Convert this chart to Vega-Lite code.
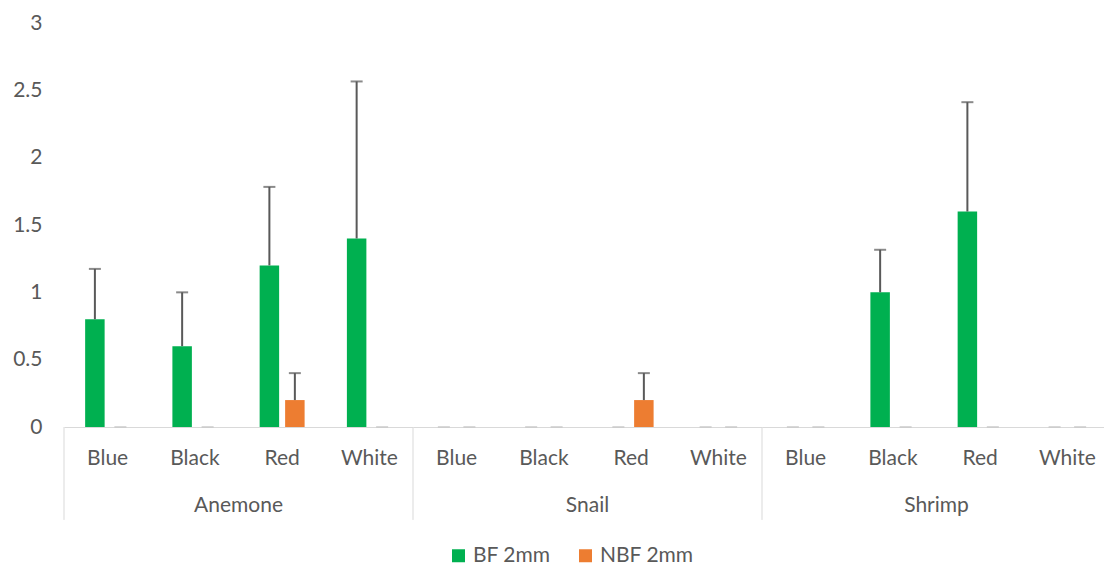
{
  "$schema": "https://vega.github.io/schema/vega-lite/v6.json",
  "background": "white",
  "padding": {"left": 12, "top": 12, "right": 0, "bottom": 0},
  "bounds": "flush",
  "data": {"values": [
    {"group": "Anemone", "color": "Blue", "series": "BF 2mm", "value": 0.8, "upper": 1.174},
    {"group": "Anemone", "color": "Blue", "series": "NBF 2mm", "value": 0, "upper": 0},
    {"group": "Anemone", "color": "Black", "series": "BF 2mm", "value": 0.6, "upper": 1.0},
    {"group": "Anemone", "color": "Black", "series": "NBF 2mm", "value": 0, "upper": 0},
    {"group": "Anemone", "color": "Red", "series": "BF 2mm", "value": 1.2, "upper": 1.783},
    {"group": "Anemone", "color": "Red", "series": "NBF 2mm", "value": 0.2, "upper": 0.4},
    {"group": "Anemone", "color": "White", "series": "BF 2mm", "value": 1.4, "upper": 2.566},
    {"group": "Anemone", "color": "White", "series": "NBF 2mm", "value": 0, "upper": 0},
    {"group": "Snail", "color": "Blue", "series": "BF 2mm", "value": 0, "upper": 0},
    {"group": "Snail", "color": "Blue", "series": "NBF 2mm", "value": 0, "upper": 0},
    {"group": "Snail", "color": "Black", "series": "BF 2mm", "value": 0, "upper": 0},
    {"group": "Snail", "color": "Black", "series": "NBF 2mm", "value": 0, "upper": 0},
    {"group": "Snail", "color": "Red", "series": "BF 2mm", "value": 0, "upper": 0},
    {"group": "Snail", "color": "Red", "series": "NBF 2mm", "value": 0.2, "upper": 0.4},
    {"group": "Snail", "color": "White", "series": "BF 2mm", "value": 0, "upper": 0},
    {"group": "Snail", "color": "White", "series": "NBF 2mm", "value": 0, "upper": 0},
    {"group": "Shrimp", "color": "Blue", "series": "BF 2mm", "value": 0, "upper": 0},
    {"group": "Shrimp", "color": "Blue", "series": "NBF 2mm", "value": 0, "upper": 0},
    {"group": "Shrimp", "color": "Black", "series": "BF 2mm", "value": 1.0, "upper": 1.316},
    {"group": "Shrimp", "color": "Black", "series": "NBF 2mm", "value": 0, "upper": 0},
    {"group": "Shrimp", "color": "Red", "series": "BF 2mm", "value": 1.6, "upper": 2.412},
    {"group": "Shrimp", "color": "Red", "series": "NBF 2mm", "value": 0, "upper": 0},
    {"group": "Shrimp", "color": "White", "series": "BF 2mm", "value": 0, "upper": 0},
    {"group": "Shrimp", "color": "White", "series": "NBF 2mm", "value": 0, "upper": 0}
  ]},
  "facet": {
    "column": {
      "field": "group", "type": "nominal", "sort": ["Anemone", "Snail", "Shrimp"],
      "header": {"title": null, "labelOrient": "bottom", "labelFont": "Lato", "labelFontSize": 21, "labelColor": "#595959", "labelPadding": 27}
    }
  },
  "spacing": 0,
  "spec": {
    "width": 349,
    "height": 404,
    "encoding": {
      "x": {
        "field": "color", "type": "nominal", "sort": ["Blue", "Black", "Red", "White"],
        "scale": {"paddingInner": 0, "paddingOuter": 0},
        "axis": {"title": null, "domainColor": "#d9d9d9", "domainWidth": 1, "ticks": false, "labelAngle": 0, "labelFont": "Lato", "labelFontSize": 21, "labelColor": "#595959", "labelPadding": 20}
      }
    },
    "layer": [
      {
        "mark": {"type": "bar"},
        "encoding": {
          "xOffset": {"field": "series", "type": "nominal", "scale": {"domain": ["BF 2mm", "NBF 2mm"], "paddingInner": 0.235, "paddingOuter": 0.83}},
          "y": {"field": "value", "type": "quantitative", "scale": {"domain": [0, 3], "nice": false, "zero": true},
            "axis": {"title": null, "values": [0, 0.5, 1, 1.5, 2, 2.5, 3], "format": ".1~f", "domain": false, "ticks": false, "grid": false, "labelFont": "Lato", "labelFontSize": 21, "labelColor": "#595959", "labelPadding": 22}},
          "color": {"field": "series", "type": "nominal", "scale": {"domain": ["BF 2mm", "NBF 2mm"], "range": ["#00B050", "#ED7D31"]},
            "legend": {"title": null, "orient": "none", "legendX": 384, "legendY": 522, "direction": "horizontal", "symbolType": "square", "symbolSize": 169, "symbolStrokeWidth": 0, "labelFont": "Lato", "labelFontSize": 21, "labelColor": "#595959", "columnPadding": 24}}
        }
      },
      {
        "mark": {"type": "rule", "color": "#595959", "strokeWidth": 2},
        "encoding": {
          "xOffset": {"field": "series", "type": "nominal"},
          "y": {"field": "value", "type": "quantitative"},
          "y2": {"field": "upper"}
        }
      },
      {
        "mark": {"type": "tick", "size": 12, "thickness": 2, "orient": "horizontal"},
        "encoding": {
          "xOffset": {"field": "series", "type": "nominal"},
          "y": {"field": "upper", "type": "quantitative"},
          "color": {"condition": {"test": "datum.upper == 0", "value": "#c8c8c8"}, "value": "#595959"}
        }
      },
      {
        "transform": [{"filter": "datum.color == 'Blue' && datum.series == 'BF 2mm'"}],
        "mark": {"type": "rule", "color": "#d9d9d9", "strokeWidth": 1},
        "encoding": {
          "x": {"field": "color", "type": "nominal", "sort": ["Blue", "Black", "Red", "White"], "bandPosition": 0},
          "y": {"datum": 0},
          "y2": {"datum": -0.69}
        }
      }
    ]
  },
  "config": {"view": {"stroke": null}, "font": "Lato"}
}
